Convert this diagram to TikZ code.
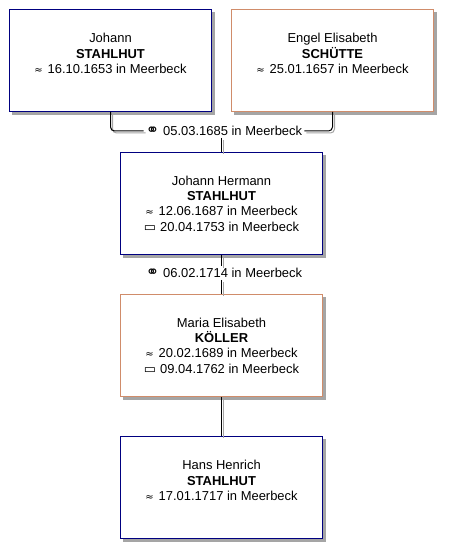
\documentclass[tikz,border=0pt]{standalone}
\usepackage{fontspec}
\setmainfont{Liberation Sans}
\newfontfamily\symfont{DejaVu Sans}
\usetikzlibrary{positioning,calc,backgrounds}
\definecolor{manline}{RGB}{0,0,128}
\definecolor{womanline}{RGB}{208,140,106}
\definecolor{shadowgray}{RGB}{165,165,165}
\newcommand{\bapt}{{\symfont\fontsize{10}{10}\selectfont ≈}\hspace{5bp}}
\newcommand{\buri}{{\symfont\fontsize{13}{13}\selectfont ▭}\hspace{4bp}}
\newcommand{\marr}{{\symfont\fontsize{16}{15}\selectfont ⚭}\hspace{4bp}}
% link with its grey shade
\newcommand{\famlink}[3]{%
  \draw [linkshade] ([shift={(2,2)}]#1) #2 ([shift={(2,2)}]#3);
  \draw [link] (#1) #2 (#3);}
\tikzset{ person/.style = { rectangle % person box
        , draw
        , line width = 1bp
        , fill = white
        , minimum width = 202bp
        , minimum height = 102bp
        , inner sep = 0pt
        }
        , man/.style = { person, draw = manline }
        , woman/.style = { person, draw = womanline }
        , info/.style = { align = center % text inside a box
        , inner sep = 0pt
        , font = \fontsize{13}{15.5}\selectfont
        }
        , wedding/.style = { inner sep = 2bp % marriage label
        , font = \fontsize{13}{15.5}\selectfont
        }
        , link/.style = { draw = black, line width = 1bp, rounded corners = 4bp }
        , linkshade/.style = { link, draw = shadowgray }
        }

\begin{document}
\begin{tikzpicture}[x=1bp, y=-1bp]
        \useasboundingbox (0,0) rectangle (452,558);

        \node [man]   (p1) at (110.5,60.5) {};
        \node [woman] (p2) at (332.5,60.5) {};
        \node [man]   (p3) at (221.5,203.5) {};
        \node [woman] (p4) at (221.5,345.5) {};
        \node [man]   (p5) at (221.5,487.5) {};
        % shadows behind the boxes
        \begin{scope}[on background layer]
          \foreach \p in {p1,p2,p3,p4,p5}
            \fill [shadowgray] ($(\p.south west)+(3,3)$) rectangle ($(\p.north east)+(3,3)$);
        \end{scope}

        \node [info, below=24bp of p1.north] (t1) {Johann\\\textbf{STAHLHUT}\\\bapt 16.10.1653 in Meerbeck};
        \node [info, below=24bp of p2.north] (t2) {Engel Elisabeth\\\textbf{SCHÜTTE}\\\bapt 25.01.1657 in Meerbeck};
        \node [info, below=23.5bp of p3.north] (t3) {Johann Hermann\\\textbf{STAHLHUT}\\\bapt 12.06.1687 in Meerbeck\\\buri 20.04.1753 in Meerbeck};
        \node [info, below=23.5bp of p4.north] (t4) {Maria Elisabeth\\\textbf{KÖLLER}\\\bapt 20.02.1689 in Meerbeck\\\buri 09.04.1762 in Meerbeck};
        \node [info, below=24bp of p5.north] (t5) {Hans Henrich\\\textbf{STAHLHUT}\\\bapt 17.01.1717 in Meerbeck};

        \node [wedding] (m1) at (224,131) {\marr 05.03.1685 in Meerbeck};
        \node [wedding] (m2) at (224,273) {\marr 06.02.1714 in Meerbeck};
        \coordinate (c1) at (m1.south -| p3.north);
        \coordinate (c2) at (p3.south |- m2.north);
        \coordinate (c3) at (p4.north |- m2.south);

        % parents of Johann Hermann
        \famlink{p1.south}{|-}{m1.west}
        \famlink{p2.south}{|-}{m1.east}
        \famlink{c1}{--}{p3.north}
        % Johann Hermann and Maria Elisabeth
        \famlink{p3.south}{--}{c2}
        \famlink{c3}{--}{p4.north}
        \famlink{p4.south}{--}{p5.north}
\end{tikzpicture}
\end{document}
